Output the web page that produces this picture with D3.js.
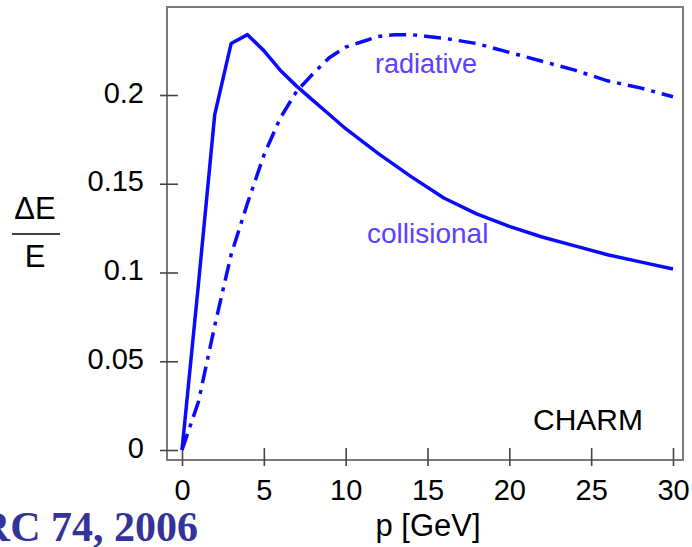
<!DOCTYPE html>
<html>
<head>
<meta charset="utf-8">
<script src="https://cdn.jsdelivr.net/npm/d3@7"></script>
<style>
  html, body { margin: 0; padding: 0; background: #fff; }
  svg { display: block; font-family: Arial, "Liberation Sans", sans-serif; }
</style>
</head>
<body>
<svg id="chart" width="692" height="547"></svg>
<script>
// ---- data ----
const collisionalP = [0, 1, 2, 3, 4, 5, 6, 7, 8, 9, 10, 12, 14, 16, 18, 20, 22, 24, 26, 28, 30];
const collisionalE = [0, 0.093, 0.189, 0.229, 0.234, 0.225, 0.214, 0.205, 0.197, 0.189, 0.181, 0.167, 0.154, 0.142, 0.133, 0.126, 0.120, 0.115, 0.110, 0.106, 0.102];

const radiativeP = [0, 1, 2, 3, 4, 5, 6, 7, 8, 9, 10, 11, 12, 13, 14, 15, 16, 18, 20, 22, 24, 26, 28, 30];
const radiativeE = [0, 0.027, 0.070, 0.110, 0.139, 0.166, 0.187, 0.202, 0.212, 0.221, 0.227, 0.230, 0.233, 0.234, 0.234, 0.233, 0.232, 0.229, 0.224, 0.219, 0.214, 0.208, 0.204, 0.199];

const xTicks = [0, 5, 10, 15, 20, 25, 30];
const yTicks = [0, 0.05, 0.1, 0.15, 0.2];
const yTickLabels = ["0", "0.05", "0.1", "0.15", "0.2"];

// ---- layout ----
const svg = d3.select("#chart");
const x = d3.scaleLinear().domain([0, 30]).range([182, 673]);
const y = d3.scaleLinear().domain([0, 0.2]).range([450, 95]);
const frame = { left: 167, top: 7, right: 683, bottom: 460 };
const sans = "Arial, 'Liberation Sans', sans-serif";

// frame
svg.append("rect")
  .attr("x", frame.left).attr("y", frame.top)
  .attr("width", frame.right - frame.left)
  .attr("height", frame.bottom - frame.top)
  .attr("fill", "none").attr("stroke", "#7a7a7a").attr("stroke-width", 2);

// x axis
const xAxis = svg.append("g").attr("transform", `translate(0,${frame.bottom})`)
  .call(d3.axisBottom(x).tickValues(xTicks).tickSize(6).tickFormat(d3.format("d")));
xAxis.select(".domain").remove();
xAxis.selectAll(".tick line").attr("y1", -12).attr("y2", 6)
  .attr("stroke", "#444").attr("stroke-width", 1.6);
xAxis.selectAll(".tick text").attr("y", 40).attr("dy", 0)
  .attr("font-size", 29).attr("fill", "#000").attr("font-family", sans);

// y axis
const yAxis = svg.append("g").attr("transform", `translate(${frame.left},0)`)
  .call(d3.axisLeft(y).tickValues(yTicks).tickSize(7)
    .tickFormat((d, i) => yTickLabels[i]));
yAxis.select(".domain").remove();
yAxis.selectAll(".tick line").attr("x1", -7).attr("x2", 11)
  .attr("stroke", "#444").attr("stroke-width", 1.6);
yAxis.selectAll(".tick text").attr("x", -23).attr("dy", 7)
  .attr("font-size", 29).attr("fill", "#000").attr("font-family", sans);

// curves
const line = d3.line().x(d => x(d[0])).y(d => y(d[1]));
const collData = collisionalP.map((p, i) => [p, collisionalE[i]]);
const radData = radiativeP.map((p, i) => [p, radiativeE[i]]);

svg.append("path").datum(collData)
  .attr("d", line).attr("fill", "none")
  .attr("stroke", "#0a0aff").attr("stroke-width", 3.5)
  .attr("stroke-linejoin", "round");

svg.append("path").datum(radData)
  .attr("d", line).attr("fill", "none")
  .attr("stroke", "#0a0aff").attr("stroke-width", 3.5)
  .attr("stroke-dasharray", "17,7,4,7");

// annotations
svg.append("text").attr("x", 375).attr("y", 73)
  .attr("font-size", 27).attr("fill", "#5a40ff").text("radiative");
svg.append("text").attr("x", 367).attr("y", 243)
  .attr("font-size", 28).attr("fill", "#5a40ff").text("collisional");
svg.append("text").attr("x", 533).attr("y", 430)
  .attr("font-size", 30).attr("fill", "#000").text("CHARM");

// axis titles
svg.append("text").attr("x", 428).attr("y", 536).attr("text-anchor", "middle")
  .attr("font-size", 31).attr("fill", "#000").text("p [GeV]");
svg.append("text").attr("x", 35).attr("y", 219).attr("text-anchor", "middle")
  .attr("font-size", 31).attr("fill", "#000").text("ΔE");
svg.append("line").attr("x1", 12).attr("x2", 60).attr("y1", 234).attr("y2", 234)
  .attr("stroke", "#000").attr("stroke-width", 1.5);
svg.append("text").attr("x", 35).attr("y", 267).attr("text-anchor", "middle")
  .attr("font-size", 31).attr("fill", "#000").text("E");

// citation (left part cut off at the page edge, as in the reference)
svg.append("text").attr("x", 198).attr("y", 541).attr("text-anchor", "end")
  .style("font-family", "'Liberation Serif', 'Times New Roman', serif")
  .attr("font-weight", "bold").attr("font-size", 42).attr("fill", "#333399")
  .text("RC 74, 2006");
</script>
</body>
</html>
